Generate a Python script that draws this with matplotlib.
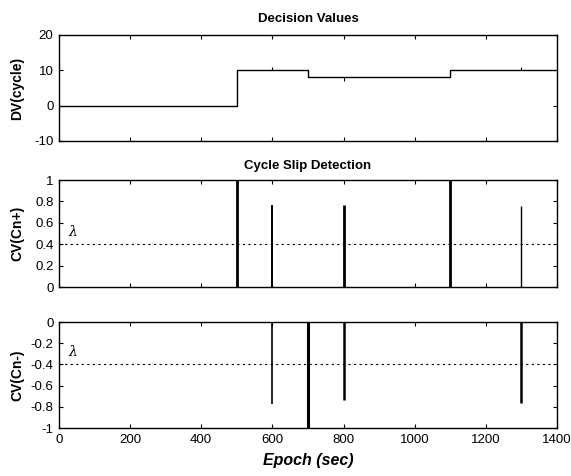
import matplotlib
matplotlib.use("Agg")
import matplotlib.pyplot as plt
import numpy as np

plt.rcParams['font.family'] = ['Liberation Sans', 'DejaVu Sans']
plt.rcParams['axes.unicode_minus'] = False
plt.rcParams['mathtext.fontset'] = 'dejavuserif'

# decision values (step levels)
dv_epochs = [0, 500, 700, 1100, 1395]
dv_levels = [0, 10, 8, 10, 10]
# small glitches on the DV curve
dv_glitch_epochs = [600, 800, 1300]
dv_glitch_base = [10, 8, 10]
dv_glitch_peak = [10.8, 7.0, 10.8]

# positive cycle slip indicator Cn+
pos_epochs = [500, 600, 800, 1100, 1300]
pos_values = [1.0, 0.77, 0.77, 1.0, 0.76]
pos_widths = [2.0, 1.4, 2.0, 2.0, 1.0]

# negative cycle slip indicator Cn-
neg_epochs = [600, 700, 800, 1300]
neg_values = [-0.77, -1.0, -0.74, -0.76]
neg_widths = [1.2, 2.2, 1.8, 1.8]

threshold = 0.4
xticks = [0, 200, 400, 600, 800, 1000, 1200, 1400]

fig = plt.figure(figsize=(5.71, 4.76), dpi=100)
ax1 = fig.add_axes([0.1033, 0.7038, 0.872, 0.2227])
ax2 = fig.add_axes([0.1033, 0.3970, 0.872, 0.2248])
ax3 = fig.add_axes([0.1033, 0.1008, 0.872, 0.2227])

for ax in (ax1, ax2, ax3):
    ax.set_xlim(0, 1400)
    ax.set_xticks(xticks)
    ax.tick_params(direction='in', top=True, right=True, length=3, width=0.8,
                   labelsize=9.5, pad=4)
    for s in ax.spines.values():
        s.set_linewidth(1.0)

# top: decision values
ax1.step(dv_epochs, dv_levels, where='post', color='black', lw=1.0)
ax1.vlines(dv_glitch_epochs, dv_glitch_base, dv_glitch_peak, color='black', lw=0.8)
ax1.set_ylim(-10, 20)
ax1.set_yticks([-10, 0, 10, 20])
ax1.set_xticklabels([])
ax1.set_title('Decision Values', fontsize=9.5, fontweight='bold', pad=9)
ax1.set_ylabel('DV(cycle)', fontsize=10, fontweight='bold')

# middle: Cn+
ax2.vlines(pos_epochs, 0, pos_values, color='black', lw=pos_widths)
ax2.axhline(threshold, color='black', lw=0.8, ls=(0, (2, 3)))
ax2.set_ylim(0, 1)
ax2.set_yticks([0, 0.2, 0.4, 0.6, 0.8, 1])
ax2.set_yticklabels(['0', '0.2', '0.4', '0.6', '0.8', '1'])
ax2.set_xticklabels([])
ax2.text(25, threshold + 0.05, r'$\lambda$', fontsize=10, va='bottom')
ax2.set_title('Cycle Slip Detection', fontsize=9.5, fontweight='bold', pad=8)
ax2.set_ylabel('CV(Cn+)', fontsize=10, fontweight='bold')

# bottom: Cn-
ax3.vlines(neg_epochs, 0, neg_values, color='black', lw=neg_widths)
ax3.axhline(-threshold, color='black', lw=0.8, ls=(0, (2, 3)))
ax3.set_ylim(-1, 0)
ax3.set_yticks([-1, -0.8, -0.6, -0.4, -0.2, 0])
ax3.set_yticklabels(['-1', '-0.8', '-0.6', '-0.4', '-0.2', '0'])
ax3.text(25, -threshold + 0.05, r'$\lambda$', fontsize=10, va='bottom')
ax3.set_ylabel('CV(Cn-)', fontsize=10, fontweight='bold')
ax3.set_xlabel('Epoch (sec)', fontsize=11.5, fontweight='bold', style='italic', labelpad=5)

# line the y labels up at the same distance from the axes
for ax in (ax1, ax2, ax3):
    ax.yaxis.set_label_coords(-0.070, 0.5)

fig.savefig('out.png', dpi=100)
